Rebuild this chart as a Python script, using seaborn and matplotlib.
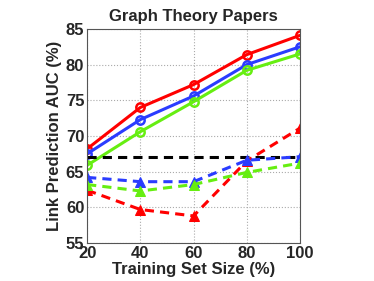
import numpy as np
import pandas as pd
import seaborn as sns
import matplotlib
matplotlib.use("Agg")
import matplotlib.pyplot as plt

# Training set sizes (%)
sizes = [20, 40, 60, 80, 100]

# AUC values
red_solid = [68.2, 74.0, 77.2, 81.4, 84.1]
blue_solid = [67.5, 72.3, 75.6, 80.0, 82.5]
green_solid = [65.9, 70.6, 74.8, 79.2, 81.5]
baseline = [67.0, 67.0, 67.0, 67.0, 67.0]
red_dashed = [62.4, 59.7, 58.8, 66.5, 71.1]
blue_dashed = [64.2, 63.6, 63.6, 66.6, 67.1]
green_dashed = [63.2, 62.3, 63.2, 64.9, 66.2]

sns.set_style("white")
plt.rcParams['font.family'] = ['Liberation Sans', 'DejaVu Sans']
plt.rcParams['font.weight'] = 'bold'

fig = plt.figure(figsize=(3.74, 2.81), dpi=100)
ax = fig.add_axes([0.233, 0.135, 0.569, 0.762])

red, blue, green = '#ff0000', '#2a3cff', '#66ee11'
lw = 2.2

sns.lineplot(x=sizes, y=red_solid, ax=ax, color=red, lw=lw, marker='o', ms=6,
             mfc='none', mec=red, mew=1.8)
sns.lineplot(x=sizes, y=blue_solid, ax=ax, color=blue, lw=lw, marker='o', ms=6,
             mfc='none', mec=blue, mew=1.8)
sns.lineplot(x=sizes, y=green_solid, ax=ax, color=green, lw=lw, marker='o', ms=6,
             mfc='none', mec=green, mew=1.8)
sns.lineplot(x=sizes, y=baseline, ax=ax, color='black', lw=lw, ls=(0, (3, 2)))
for vals, c in [(red_dashed, red), (blue_dashed, blue), (green_dashed, green)]:
    sns.lineplot(x=sizes, y=vals, ax=ax, color=c, lw=lw, ls=(0, (3, 2)),
                 marker='^', ms=7, mec=c, mfc=c)

ax.set_xlim(20, 100)
ax.set_ylim(55, 85)
ax.set_xticks(sizes)
ax.set_yticks([55, 60, 65, 70, 75, 80, 85])
ax.grid(True, ls=':', color='#aaaaaa', lw=0.8)
ax.tick_params(direction='in', labelsize=12, length=3, pad=2)
for lab in ax.get_xticklabels() + ax.get_yticklabels():
    lab.set_fontweight('bold')
for sp in ax.spines.values():
    sp.set_color('#555555')
    sp.set_linewidth(0.8)

ax.set_xlabel('Training Set Size (%)', fontsize=12, fontweight='bold', labelpad=1)
ax.set_ylabel('Link Prediction AUC (%)', fontsize=12, fontweight='bold', labelpad=3)
ax.set_title('Graph Theory Papers', fontsize=12, fontweight='bold', pad=6)

fig.savefig('out.png', dpi=100)
